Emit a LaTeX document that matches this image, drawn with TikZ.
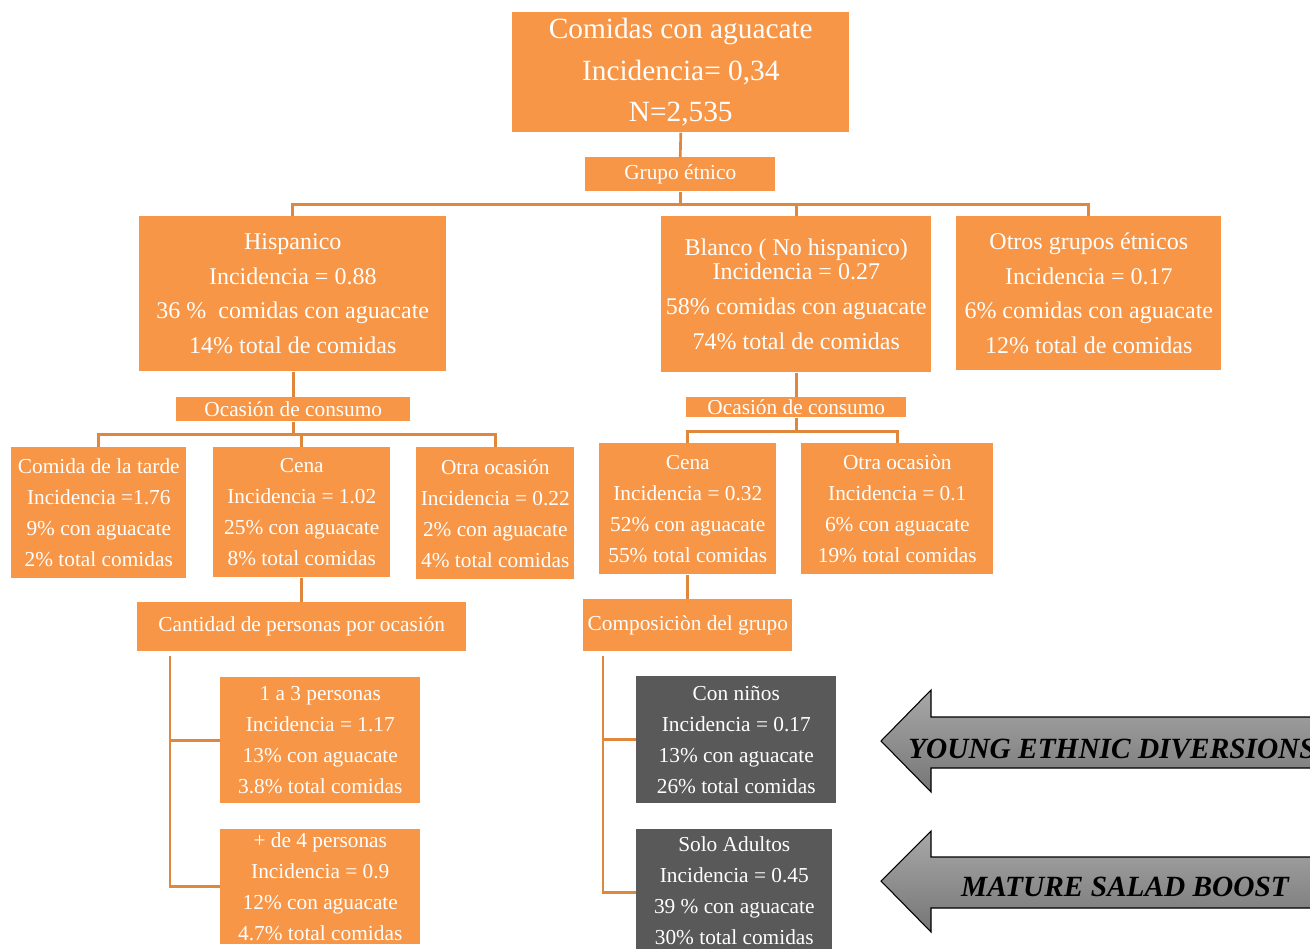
\documentclass[tikz,border=0pt]{standalone}
\usepackage{fontspec}
\setmainfont{Liberation Serif}
\begin{document}
\begin{tikzpicture}[x=0.75pt,y=-0.75pt]
\definecolor{orfill}{RGB}{247,150,70}
\definecolor{orline}{RGB}{224,135,62}
\definecolor{dgray}{RGB}{89,89,89}
\definecolor{artop}{RGB}{168,168,168}
\definecolor{arbot}{RGB}{118,118,118}
\tikzset{
  box/.style={fill=orfill, text=white, inner sep=0pt, align=center, anchor=north west},
  gbox/.style={box, fill=dgray},
  sz/.style 2 args={minimum width=#1*0.75pt, minimum height=#2*0.75pt},
  fa/.style={font=\fontsize{22}{31}\selectfont},
  fb/.style={font=\fontsize{18}{26}\selectfont},
  fc/.style={font=\fontsize{16}{23.25}\selectfont},
  conn/.style={draw=orline, line width=2pt},
  bigarrow/.style={top color=artop, bottom color=arbot, draw=black, line width=0.8pt},
  arrtxt/.style={font=\fontsize{22}{26}\selectfont\bfseries\itshape, text=black, inner sep=0pt}
}
\useasboundingbox (0,0) rectangle (1310,949);
\fill[white] (0,0) rectangle (1310,949);

% boxes
\node[box, fa, sz={337}{120}] (top) at (512,12) {Comidas con aguacate\\Incidencia= 0,34\\N=2,535};
\node[box, fc, sz={190}{34}] (grupo) at (585,157) {Grupo étnico};
\node[box, fb, sz={307}{155}] (hisp) at (139,216) {Hispanico\\Incidencia = 0.88\\36 \%\ \ comidas con aguacate\\14\% total de comidas};
\node[box, fb, sz={270}{156}] (blanco) at (661,216) {Blanco ( No hispanico)\\[-8pt]Incidencia = 0.27\\58\% comidas con aguacate\\74\% total de comidas};
\node[box, fb, sz={265}{154}] (otros) at (956,216) {Otros grupos étnicos\\Incidencia = 0.17\\6\% comidas con aguacate\\12\% total de comidas};

\node[box, fc, sz={234}{24}] (oc1) at (176,397) {Ocasión de consumo};
\node[box, fc, sz={175}{131}] (ctarde) at (11,447) {Comida de la tarde\\Incidencia =1.76\\9\% con aguacate\\2\% total comidas};
\node[box, fc, sz={177}{130}] (cena1) at (213,447) {Cena\\Incidencia = 1.02\\25\% con aguacate\\8\% total comidas};
\node[box, fc, sz={158}{132}] (otra1) at (416,447) {Otra ocasión\\Incidencia = 0.22\\2\% con aguacate\\4\% total comidas};
\node[box, fc, sz={329}{49}] (cant) at (137,602) {Cantidad de personas por ocasión};
\node[box, fc, sz={200}{126}] (p13) at (220,677) {1 a 3 personas\\Incidencia = 1.17\\13\% con aguacate\\3.8\% total comidas};
\node[box, fc, sz={200}{115}] (p4) at (220,829) {+ de 4 personas\\Incidencia = 0.9\\12\% con aguacate\\4.7\% total comidas};

\node[box, fc, sz={220}{20}] (oc2) at (686,397) {Ocasión de consumo};
\node[box, fc, sz={177}{131}] (cena2) at (599,443) {Cena\\Incidencia = 0.32\\52\% con aguacate\\55\% total comidas};
\node[box, fc, sz={192}{131}] (otra2) at (801,443) {Otra ocasiòn\\Incidencia = 0.1\\6\% con aguacate\\19\% total comidas};
\node[box, fc, sz={209}{52}] (comp) at (583,599) {Composiciòn del grupo};
\node[gbox, fc, sz={200}{127}] (ninos) at (636,676) {Con niños\\Incidencia = 0.17\\13\% con aguacate\\26\% total comidas};
\node[gbox, fc, sz={196}{122}] (adultos) at (636,829) {Solo Adultos\\Incidencia = 0.45\\39 \% con aguacate\\30\% total comidas};

% connectors
\draw[conn] (top.south) -- (grupo.north);
\draw[conn] (grupo.south) -- ++(0,13) coordinate (gj);
\draw[conn] (hisp.north) |- (gj) -| (otros.north);
\draw[conn] (gj) -| (blanco.north);

\draw[conn] (oc1.north) -- (oc1.north |- hisp.south);
\draw[conn] (oc1.south) -- ++(0,13) coordinate (oj1);
\draw[conn] (ctarde.north) |- (oj1) -| (otra1.north);
\draw[conn] (oj1) -| (cena1.north);
\draw[conn] (cena1.south) -- (cant.north);
\coordinate (ct) at ([shift={(33,4)}]cant.south west);
\draw[conn] (ct) |- (p4.west);
\draw[conn] (ct |- p13.west) -- (p13.west);

\draw[conn] (blanco.south) -- (oc2.north);
\draw[conn] (oc2.south) -- ++(0,14) coordinate (oj2);
\draw[conn] (cena2.north) |- (oj2) -| (otra2.north);
\draw[conn] (cena2.south) -- (comp.north);
\coordinate (cc) at ([shift={(20,4)}]comp.south west);
\draw[conn] (cc) |- ([yshift=-2*0.75pt]adultos.west);
\draw[conn] (cc |- ninos.west) -- (ninos.west);

% big arrows
\begin{scope}
\clip (0,0) rectangle (1310,949);
\shade[bigarrow] (881,741) -- (931,690) -- (931,717) -- (1330,717) -- (1330,768) -- (931,768) -- (931,792) -- cycle;
\shade[bigarrow] (881,881) -- (931,831) -- (931,857) -- (1330,857) -- (1330,908) -- (931,908) -- (931,932) -- cycle;
\node[arrtxt, anchor=west] (yed) at (908,749) {YOUNG ETHNIC DIVERSIONS};
\node[arrtxt] (msb) at (1125,887) {MATURE SALAD BOOST};
\end{scope}
\end{tikzpicture}
\end{document}
